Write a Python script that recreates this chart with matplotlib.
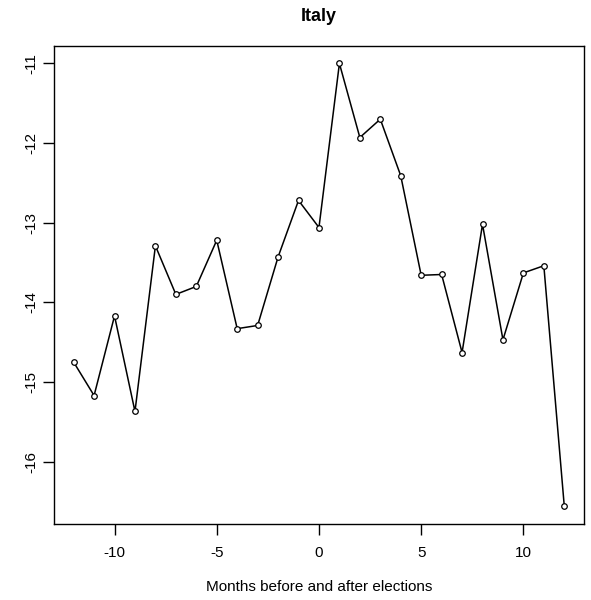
import matplotlib
matplotlib.use("Agg")
import matplotlib.pyplot as plt

# Months relative to the election, and the measured value for Italy
months = list(range(-12, 13))
values = [-14.75, -15.17, -14.17, -15.37, -13.29, -13.90, -13.80, -13.22,
          -14.33, -14.29, -13.43, -12.72, -13.06, -11.00, -11.93, -11.70,
          -12.41, -13.66, -13.65, -14.63, -13.02, -14.47, -13.63, -13.54,
          -16.56]
xticks = [-10, -5, 0, 5, 10]
yticks = [-11, -12, -13, -14, -15, -16]

plt.rcParams['font.family'] = ['Liberation Sans', 'DejaVu Sans']
plt.rcParams['axes.unicode_minus'] = False

fig = plt.figure(figsize=(5.91, 6.0), dpi=100)
ax = fig.add_axes([0.0914, 0.1267, 0.8966, 0.7971])

ax.plot(months, values, color='black', linewidth=1.1,
        marker='o', markersize=4, markerfacecolor='white',
        markeredgecolor='black', markeredgewidth=0.9)

# R-style 4% padding on both axes
span_x = max(months) - min(months)
span_y = max(values) - min(values)
ax.set_xlim(min(months) - 0.04 * span_x, max(months) + 0.04 * span_x)
ax.set_ylim(min(values) - 0.04 * span_y, max(values) + 0.04 * span_y)

ax.set_xticks(xticks)
ax.set_yticks(yticks)
ax.set_xticklabels([str(t) for t in xticks])
ax.set_yticklabels([str(t) for t in yticks], rotation=90, va='center')
ax.tick_params(direction='out', length=8, width=1, labelsize=11, colors='black')
ax.tick_params(axis='x', pad=8)
ax.tick_params(axis='y', pad=3)
for s in ax.spines.values():
    s.set_linewidth(1)

ax.set_xlabel("Months before and after elections", fontsize=11, labelpad=14)
ax.set_title("Italy", fontsize=13, fontweight='bold', pad=18)

fig.savefig("out.png", dpi=100)
